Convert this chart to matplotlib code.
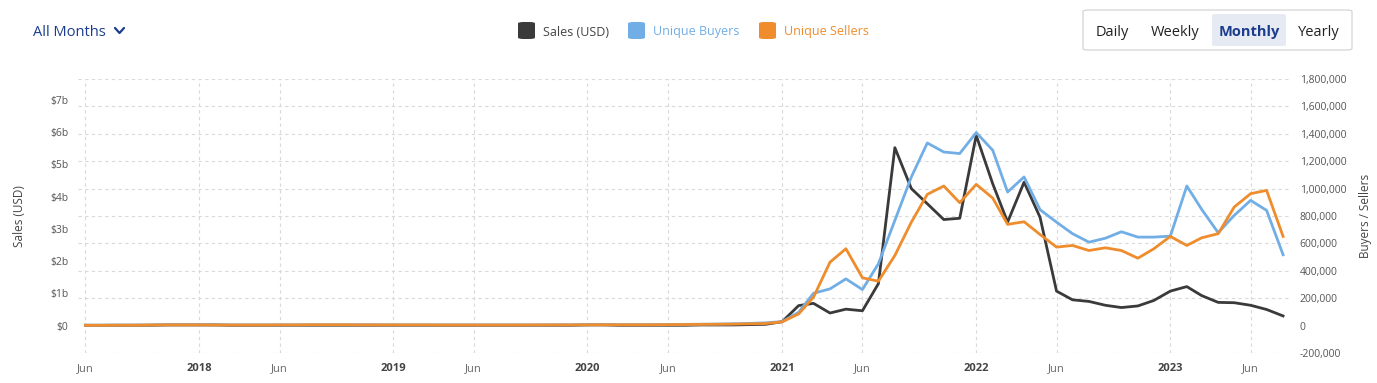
import numpy as np
import pandas as pd
import matplotlib
matplotlib.use("Agg")
import matplotlib.pyplot as plt
from matplotlib.patches import FancyBboxPatch
from matplotlib.lines import Line2D

plt.rcParams['font.family'] = ['Open Sans', 'DejaVu Sans']

# monthly data, Jun 2017 .. Aug 2023
months = pd.date_range("2017-06-01", "2023-08-01", freq="MS")

# sales in $ billions
sales_pre = [0.01, 0.01, 0.01, 0.01, 0.01, 0.02, 0.02, 0.02, 0.02, 0.01, 0.01, 0.01,
             0.01, 0.01, 0.01, 0.01, 0.01, 0.01, 0.01, 0.01, 0.01, 0.01, 0.01, 0.01,
             0.01, 0.01, 0.01, 0.01, 0.01, 0.01, 0.01, 0.02, 0.02, 0.01, 0.01, 0.01,
             0.01, 0.01, 0.02, 0.02, 0.02, 0.03, 0.04]
sales_post = [0.12, 0.62, 0.69, 0.39, 0.51, 0.46, 1.30, 5.52, 4.25, 3.78, 3.29, 3.33,
              5.90, 4.40, 3.21, 4.45, 3.36, 1.07, 0.80, 0.75, 0.63, 0.56, 0.61, 0.78,
              1.07, 1.21, 0.93, 0.72, 0.71, 0.63, 0.50, 0.30]

buyers_pre = [3000, 3000, 4000, 4000, 5000, 6000, 6000, 6000, 5000, 5000, 5000, 5000,
              5000, 5000, 6000, 6000, 6000, 6000, 6000, 5000, 5000, 5000, 5000, 5000,
              5000, 5000, 5000, 5000, 5000, 6000, 6000, 7000, 7000, 7000, 7000, 7000,
              8000, 9000, 10000, 11000, 13000, 16000, 20000]
buyers_post = [29000, 97000, 236000, 268000, 341000, 263000, 451000, 768000, 1085000,
               1333000, 1267000, 1256000, 1409000, 1280000, 975000, 1085000, 846000,
               755000, 671000, 609000, 638000, 685000, 646000, 646000, 653000, 1019000,
               848000, 678000, 804000, 914000, 841000, 517000]

sellers_pre = [2000, 2000, 3000, 3000, 4000, 5000, 5000, 5000, 4000, 4000, 4000, 4000,
               5000, 5000, 6000, 6000, 6000, 5000, 5000, 5000, 5000, 5000, 4000, 4000,
               4000, 4000, 4000, 4000, 5000, 5000, 5000, 6000, 6000, 6000, 6000, 6000,
               7000, 8000, 9000, 10000, 11000, 13000, 15000]
sellers_post = [27000, 85000, 207000, 463000, 561000, 349000, 324000, 512000, 755000,
                958000, 1019000, 897000, 1031000, 931000, 739000, 758000, 665000,
                573000, 585000, 548000, 568000, 548000, 492000, 561000, 651000, 585000,
                641000, 671000, 865000, 963000, 987000, 651000]

sales = np.array(sales_pre + sales_post) * 1e9
buyers = np.array(buyers_pre + buyers_post)
sellers = np.array(sellers_pre + sellers_post)

c_sales = '#3a3a3a'
c_buy = '#72aee6'
c_sell = '#ef8c2c'
c_grid = '#d9d9d9'
c_blue = '#1b3c8c'

W, H = 1377, 383
fig = plt.figure(figsize=(W / 100, H / 100), dpi=100)
ax = fig.add_axes([78 / W, 1 - 353 / H, (1290 - 78) / W, (353 - 79) / H])
ax2 = ax.twinx()

rlim = (-200000, 1800000)
k = 4250  # dollars per buyer unit on the shared grid
ax.set_ylim(rlim[0] * k, rlim[1] * k)
ax2.set_ylim(*rlim)

x0 = months[0] - pd.Timedelta(days=14)
x1 = months[-1] + pd.Timedelta(days=13)
ax.set_xlim(x0, x1)

ax.plot(months, sales, color=c_sales, lw=2.0, zorder=3)
ax2.plot(months, buyers, color=c_buy, lw=2.0, zorder=3)
ax2.plot(months, sellers, color=c_sell, lw=2.0, zorder=4)

# left axis ticks
ax.set_yticks(np.arange(0, 8) * 1e9)
ax.set_yticklabels(['$0'] + ['$%db' % i for i in range(1, 8)])
# horizontal grid follows the right axis
rticks = np.arange(-200000, 1800001, 200000)
ax2.set_yticks(rticks)
ax2.set_yticklabels(['{:,}'.format(t) for t in rticks])
ax.set_yticks(rticks * k, minor=True)
ax.grid(True, which='minor', axis='y', color=c_grid, ls=(0, (3, 3)), lw=0.8)
ax.tick_params(axis='y', which='minor', length=0)

# x ticks
jun = [pd.Timestamp(f"{y}-06-01") for y in range(2017, 2024)]
jan = [pd.Timestamp(f"{y}-01-01") for y in range(2018, 2024)]
xt = sorted(jun + jan)
ax.set_xticks(xt)
ax.set_xticklabels([str(d.year) if d.month == 1 else 'Jun' for d in xt])
for lab, d in zip(ax.get_xticklabels(), xt):
    if d.month == 1:
        lab.set_fontweight('bold')
        lab.set_color('#444444')
    else:
        lab.set_color('#666666')
ax.grid(True, which='major', axis='x', color=c_grid, ls=(0, (3, 3)), lw=0.8)
ax.set_axisbelow(True)

ax.tick_params(axis='x', length=0, labelsize=8, pad=7)
ax.tick_params(axis='y', which='major', length=0, labelsize=7.5, labelcolor='#555555', pad=7)
ax2.tick_params(axis='y', length=0, labelsize=7.5, labelcolor='#555555', pad=7)

for a in (ax, ax2):
    for s in a.spines.values():
        s.set_visible(False)

ax.set_ylabel('Sales (USD)', fontsize=8.5, color='#444444', labelpad=17)
ax2.set_ylabel('Buyers / Sellers', fontsize=8.5, color='#444444', labelpad=9)

# header: dropdown
fig.text(33 / W, 1 - 32 / H, 'All Months', fontsize=10.5, color=c_blue, va='center')
fig.lines.append(Line2D([115 / W, 119.5 / W, 124 / W],
                        [1 - 28 / H, 1 - 33 / H, 1 - 28 / H],
                        transform=fig.transFigure, color=c_blue, lw=1.6,
                        solid_capstyle='round', solid_joinstyle='round'))

# legend
legend_items = [('Sales (USD)', c_sales, '#444444', 518),
                ('Unique Buyers', c_buy, c_buy, 628),
                ('Unique Sellers', c_sell, c_sell, 759)]
for label, col, tcol, px in legend_items:
    fig.patches.append(FancyBboxPatch((px / W, 1 - 39 / H), 17 / W, 17 / H,
                                      boxstyle='round,pad=0,rounding_size=0.004',
                                      transform=fig.transFigure, color=col, lw=0))
    fig.text((px + 25) / W, 1 - 32 / H, label, fontsize=9, color=tcol, va='center')

# period buttons
fig.patches.append(FancyBboxPatch((1083 / W, 1 - 50 / H), 269 / W, 40 / H,
                                  boxstyle='round,pad=0,rounding_size=0.004',
                                  transform=fig.transFigure, facecolor='white',
                                  edgecolor='#d0d0d0', lw=0.8))
fig.patches.append(FancyBboxPatch((1212 / W, 1 - 46 / H), 74 / W, 32 / H,
                                  boxstyle='round,pad=0,rounding_size=0.003',
                                  transform=fig.transFigure, facecolor='#e6eaf3', lw=0))
for label, px, bold, col in [('Daily', 1112, False, '#222222'),
                             ('Weekly', 1175, False, '#222222'),
                             ('Monthly', 1249, True, c_blue),
                             ('Yearly', 1319, False, '#222222')]:
    fig.text(px / W, 1 - 32 / H, label, fontsize=10.5, color=col, ha='center',
             va='center', fontweight='bold' if bold else 'normal')

fig.savefig('out.png', dpi=100)
